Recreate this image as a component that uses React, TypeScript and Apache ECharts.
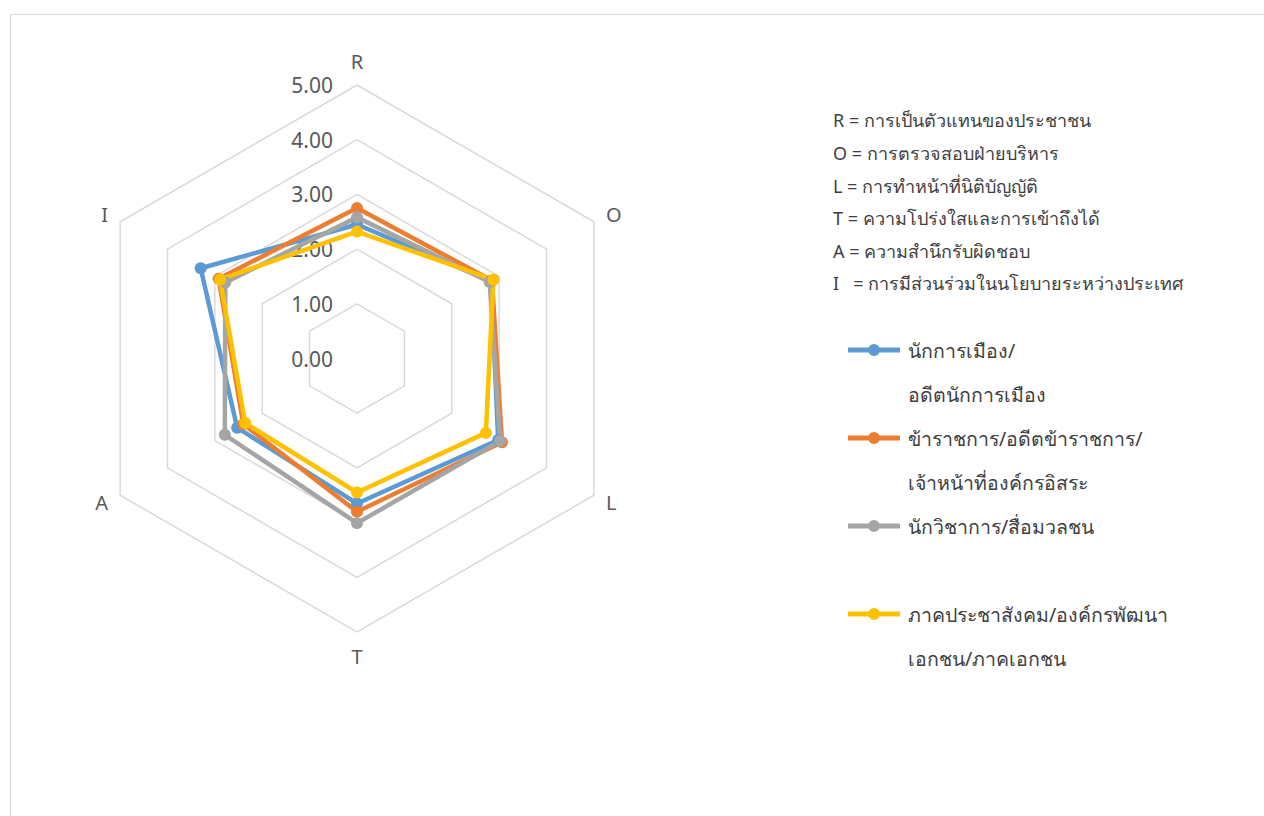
import React, { useEffect, useRef } from "react";
import * as echarts from "echarts";

const indicatorNames = ["R", "I", "A", "T", "L", "O"];
const maxValue = 5;

const seriesNames = [
  "นักการเมือง/\nอดีตนักการเมือง",
  "ข้าราชการ/อดีตข้าราชการ/\nเจ้าหน้าที่องค์กรอิสระ",
  "นักวิชาการ/สื่อมวลชน\n ",
  "ภาคประชาสังคม/องค์กรพัฒนา\nเอกชน/ภาคเอกชน",
];
const seriesColors = ["#5B9BD5", "#ED7D31", "#A5A5A5", "#FFC000"];

// values in order R, I, A, T, L, O
const politicians = [2.45, 3.3, 2.53, 2.65, 2.98, 2.83];
const officials = [2.75, 2.92, 2.4, 2.8, 3.06, 2.85];
const academics = [2.58, 2.78, 2.79, 3.01, 3.02, 2.8];
const civilSociety = [2.32, 2.89, 2.36, 2.45, 2.72, 2.88];
const seriesValues = [politicians, officials, academics, civilSociety];

const abbreviations = [
  "R = การเป็นตัวแทนของประชาชน",
  "O = การตรวจสอบฝ่ายบริหาร",
  "L = การทำหน้าที่นิติบัญญัติ",
  "T = ความโปร่งใสและการเข้าถึงได้",
  "A = ความสำนึกรับผิดชอบ",
  "I   = การมีส่วนร่วมในนโยบายระหว่างประเทศ",
];

const FONT = "'Noto Sans', 'Open Sans', sans-serif";
const legendIcon =
  "path://M0,5 L52,5 L52,10 L0,10 Z M20,7.5 A6,6 0 1,1 32,7.5 A6,6 0 1,1 20,7.5 Z";

export default function App() {
  const ref = useRef<HTMLDivElement>(null);
  useEffect(() => {
    if (!ref.current) return;
    const chart = echarts.init(ref.current, undefined, { renderer: "svg" });
    const option = {
      animation: false,
      backgroundColor: "#ffffff",
      textStyle: { fontFamily: FONT },
      graphic: [
        {
          type: "rect",
          shape: { x: 10.5, y: 14.5, width: 1400, height: 1000 },
          style: { fill: "none", stroke: "#d9d9d9", lineWidth: 1 },
          silent: true,
        },
        {
          type: "text",
          left: 833,
          top: 104,
          style: {
            text: abbreviations.join("\n"),
            fontSize: 18,
            lineHeight: 32.6,
            fill: "#404040",
            fontFamily: FONT,
          },
        },
      ],
      legend: {
        orient: "vertical",
        left: 843,
        top: 279,
        itemWidth: 52,
        itemHeight: 12,
        itemGap: -44,
        formatter: (name: string) => " \n" + name,
        textStyle: {
          fontSize: 19.5,
          lineHeight: 44,
          color: "#404040",
          padding: [0, 0, 0, 3],
          fontFamily: FONT,
        },
        data: seriesNames.map((n, i) => ({
          name: n,
          icon: legendIcon,
          itemStyle: { color: seriesColors[i], borderWidth: 0 },
        })),
      },
      radar: {
        center: [357, 358.5],
        radius: 273.5,
        startAngle: 90,
        splitNumber: 5,
        shape: "polygon",
        nameGap: 14,
        axisName: { color: "#595959", fontSize: 20, fontFamily: FONT },
        axisLine: { show: false },
        axisTick: { show: false },
        axisLabel: { show: false },
        splitArea: { show: false },
        splitLine: { lineStyle: { color: "#d9d9d9", width: 1.5 } },
        indicator: indicatorNames.map((n, i) => ({
          name: n,
          min: 0,
          max: maxValue,
          ...(i === 0
            ? {
                axisLabel: {
                  show: true,
                  color: "#595959",
                  fontSize: 21,
                  margin: 24,
                  fontFamily: FONT,
                  formatter: (v: number) => v.toFixed(2),
                },
              }
            : {}),
        })),
      },
      series: [
        {
          type: "radar",
          symbol: "circle",
          symbolSize: 12,
          data: seriesValues.map((vals, i) => ({
            name: seriesNames[i],
            value: vals,
            lineStyle: { color: seriesColors[i], width: 4.5 },
            itemStyle: { color: seriesColors[i] },
          })),
        },
      ],
    };
    chart.setOption(option as any);
    return () => chart.dispose();
  }, []);
  return (
    <div
      ref={ref}
      style={{ position: "fixed", left: 0, top: 0, width: 1264, height: 816 }}
    />
  );
}
